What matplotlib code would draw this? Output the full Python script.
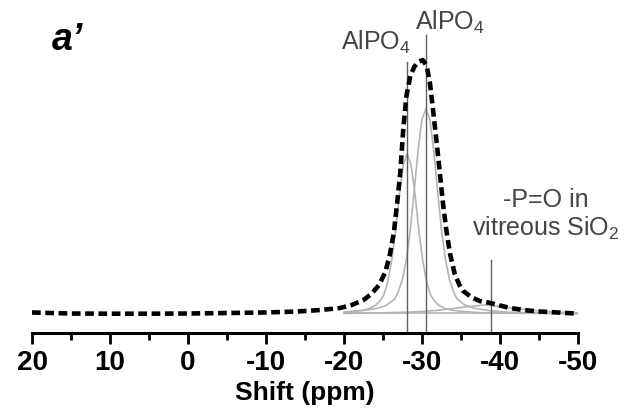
import matplotlib
matplotlib.use("Agg")
import matplotlib.pyplot as plt

plt.rcParams['font.family'] = ['Liberation Sans', 'DejaVu Sans']
plt.rcParams['mathtext.fontset'] = 'custom'
plt.rcParams['mathtext.rm'] = 'Liberation Sans'
plt.rcParams['mathtext.it'] = 'Liberation Sans:italic'
plt.rcParams['mathtext.bf'] = 'Liberation Sans:bold'
plt.rcParams['axes.unicode_minus'] = False

# envelope (dashed); heights above baseline
env_ppm = [20, 15, 10, 5, 0, -5, -10, -14, -17, -19.5, -21, -22.5, -23.5, -24.5,
           -25.3, -25.9, -26.4, -26.8, -27.2, -27.6, -28.0, -28.5, -29.0, -29.5,
           -30.1, -30.6, -31.0, -31.4, -31.9, -32.3, -32.7, -33.1, -33.6, -34.2,
           -34.8, -35.3, -36.3, -37.4, -38.8, -40, -41.3, -43, -45, -47.5, -49.6]
env_int = [1.5, 0.5, 0.3, 0.3, 0.5, 1, 1.5, 2.5, 4, 6, 9, 14, 20, 29,
           42, 60, 82, 110, 140, 185, 218, 238, 247, 252,
           254, 248, 232, 205, 170, 140, 110, 85, 60, 40,
           29, 23, 17, 13, 11, 8.5, 6, 4, 2.5, 1.5, 0.5]

# fitted components (grey)
p1_ppm = [-20.1, -22.1, -23.1, -24.1, -24.6, -25.1, -25.6, -26.1, -26.6, -27.1, -27.6,
          -28.1, -28.6, -29.1, -29.6, -30.1, -30.6, -31.1, -31.6, -32.1, -33.1, -34.1,
          -36.1, -38.1, -50]
p1_int = [2, 3.5, 5, 9, 13, 19, 32, 53, 83, 120, 149,
          160, 149, 120, 83, 53, 32, 19, 13, 9, 5, 3.5,
          2, 1, 0.3]

p2_ppm = [-20, -22.5, -24.5, -25.5, -26.5, -27.0, -27.5, -28.0, -28.5, -29.0, -29.5,
          -30.0, -30.5, -31.0, -31.5, -32.0, -32.5, -33.0, -33.5, -34.0, -34.5, -35.5,
          -36.5, -38.5, -40.5, -45, -50]
p2_int = [1.8, 3.5, 6, 9, 15, 23, 35, 55, 84, 123, 164,
          195, 205, 195, 164, 123, 84, 55, 35, 23, 15, 9,
          6, 3.5, 2, 1, 0.5]

p3_ppm = [-20, -25, -28, -30, -32, -34, -36, -38, -40, -42, -44, -46, -48, -50]
p3_int = [0.6, 1.2, 1.8, 2.5, 3.7, 5.5, 7.5, 9, 7.5, 5.5, 3.7, 2.5, 1.8, 1.3]

# peak markers: position, top of marker line
mark_ppm = [-28.1, -30.5, -38.8]
mark_top = [252, 279, 54]

fig = plt.figure(figsize=(6.33, 4.09), dpi=100)
ax = fig.add_axes([32/633, 76/409, 546/633, 333/409])

ax.plot(p1_ppm, p1_int, color='#b4b4b4', lw=1.2)
ax.plot(p2_ppm, p2_int, color='#b4b4b4', lw=1.2)
ax.plot(p3_ppm, p3_int, color='#b4b4b4', lw=1.2)
ax.plot([-20, -50], [1.5, 1.5], color='#b4b4b4', lw=1.2)
for m, t in zip(mark_ppm, mark_top):
    ax.plot([m, m], [-19, t], color='#606060', lw=1.0)
ax.plot(env_ppm, env_int, color='black', lw=3.3, ls=(0, (1.9, 1.0)))

ax.set_xlim(20, -50)
ax.set_ylim(-19, 314)
for s in ['left', 'right', 'top']:
    ax.spines[s].set_visible(False)
ax.spines['bottom'].set_linewidth(2.2)
ax.set_yticks([])
ax.set_xticks([20, 10, 0, -10, -20, -30, -40, -50])
ax.set_xticks([15, 5, -5, -15, -25, -35, -45], minor=True)
ax.tick_params(axis='x', which='major', length=8, width=2, pad=4, labelsize=20)
ax.tick_params(axis='x', which='minor', length=5, width=2)
for lab in ax.get_xticklabels():
    lab.set_fontweight('bold')
ax.set_xlabel('Shift (ppm)', fontsize=19, fontweight='bold', labelpad=4)

ax.text(-24.1, 272, r'AlPO$_\mathregular{4}$', fontsize=18, color='#444444',
        ha='center', va='center')
ax.text(-33.6, 292, r'AlPO$_\mathregular{4}$', fontsize=18, color='#444444',
        ha='center', va='center')
ax.text(-45.9, 99, '-P=O in\nvitreous SiO$_\\mathregular{2}$', fontsize=18,
        color='#444444', ha='center', va='center', ma='center', linespacing=1.1)
fig.text(52/633, 1 - 50/409, "a\u2019", fontsize=27, fontweight='bold',
         fontstyle='italic', ha='left', va='baseline')

fig.savefig('out.png', dpi=100)
